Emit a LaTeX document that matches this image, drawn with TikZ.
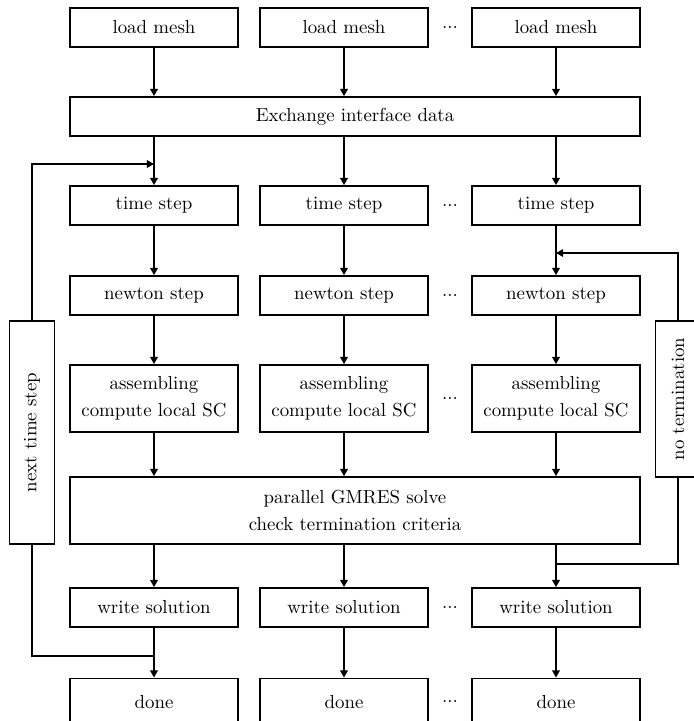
\documentclass[tikz,border=0pt]{standalone}
\usetikzlibrary{arrows.meta}

\tikzset{
  box/.style={draw, line width=0.9pt, align=center, inner sep=2pt,
    minimum width=89pt, minimum height=20.7pt},
  tallbox/.style={box, minimum height=35.5pt},
  widebox/.style={box, minimum width=302pt},
  sidebox/.style={box, rotate=90, minimum height=24pt},
  line/.style={line width=0.9pt},
  flow/.style={line, -{Triangle[length=3.8pt,width=4pt]}},
}

\begin{document}
\begin{tikzpicture}[x=0.53pt, y=-0.53pt]
  \useasboundingbox (0,0) rectangle (693,721);

  % one column per process
  \foreach \i/\x in {1/154,2/344,3/556} {
    \node[box] (lm\i) at (\x,27.5) {load mesh};
    \node[box] (ts\i) at (\x,205.5) {time step};
    \node[box] (nw\i) at (\x,295.5) {newton step};
    \node[tallbox] (as\i) at (\x,398.5) {assembling\\[2.5pt]compute local SC};
    \node[box] (ws\i) at (\x,607.5) {write solution};
    \node[box, minimum height=25pt] (dn\i) at (\x,702) {done};
  }
  \foreach \y in {27.5,205.5,295.5,398.5,607.5,701}
    \node at (450,\y) {...};

  \node[widebox] (ex) at (355,116.5) {Exchange interface data};
  \node[widebox, minimum height=35.5pt] (gm) at (355,510.5) {parallel GMRES solve\\[2.5pt]check termination criteria};

  \node[sidebox, minimum width=118pt] (nts) at (32,432.5) {next time step};
  \node[sidebox, minimum width=82.7pt] (nterm) at (678,399) {no termination};

  \foreach \i in {1,2,3} {
    \draw[flow] (lm\i) -- (lm\i |- ex.north);
    \draw[flow] (ex.south -| ts\i) -- (ts\i);
    \draw[flow] (ts\i) -- (nw\i);
    \draw[flow] (nw\i) -- (as\i);
    \draw[flow] (as\i) -- (as\i |- gm.north);
    \draw[flow] (gm.south -| ws\i) -- (ws\i);
    \draw[flow] (ws\i) -- (dn\i);
  }

  % time loop (rotated box: west is its lower end)
  \coordinate (tsin) at (154,164);
  \draw[line] (ws1.south) ++(0,28) -| (nts.west);
  \draw[flow] (nts.east) |- (tsin);

  % newton loop
  \coordinate (gmout) at (556,564);
  \coordinate (nwin) at (556,253);
  \draw[line] (gmout) -| (nterm.west);
  \draw[flow] (nterm.east) |- (nwin);
\end{tikzpicture}
\end{document}
